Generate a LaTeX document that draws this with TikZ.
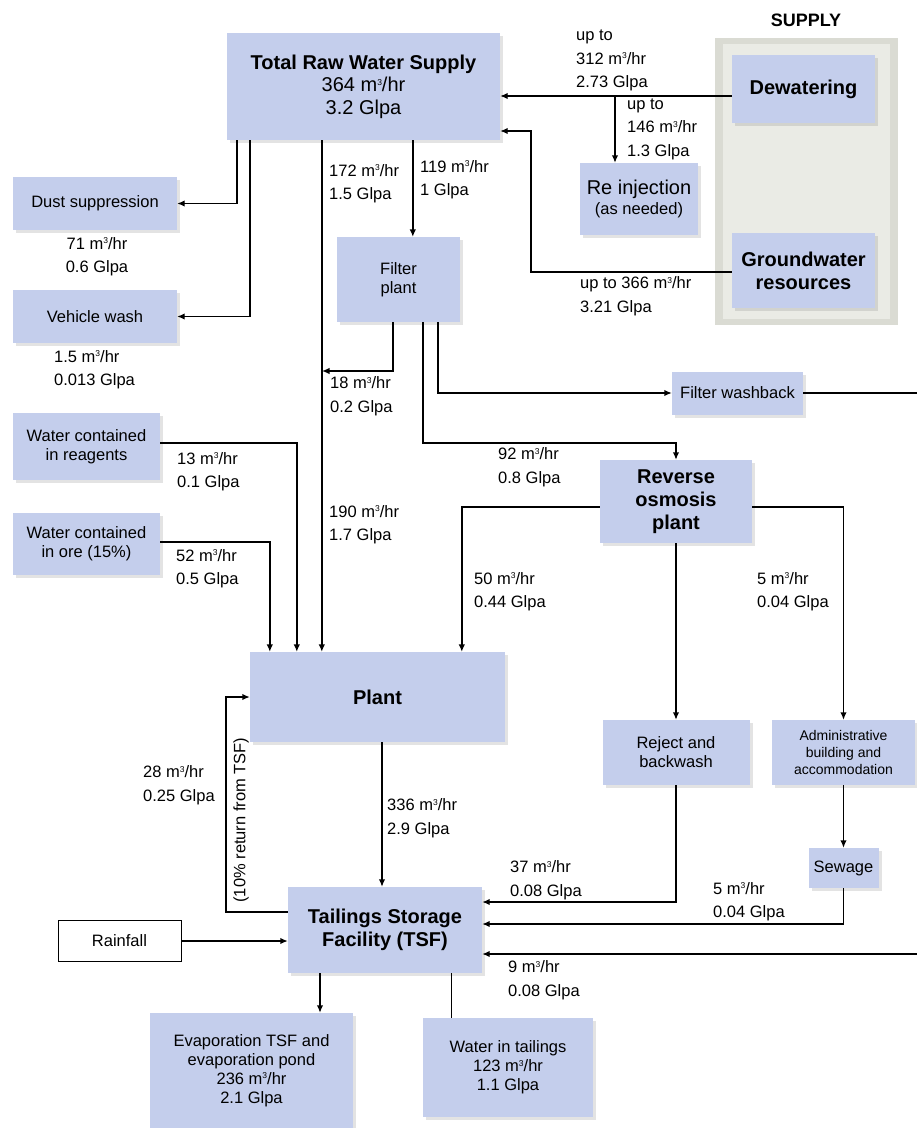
\documentclass[tikz,border=0pt]{standalone}
\usepackage{fontspec}
\setmainfont{Liberation Sans}
\usetikzlibrary{arrows.meta,shadows,calc}
\definecolor{boxblue}{RGB}{196,206,236}
\definecolor{panelout}{RGB}{218,219,211}
\definecolor{panelin}{RGB}{234,235,229}
\newcommand{\mh}{m\raisebox{.62ex}{\fontsize{8.5}{8.5}\selectfont 3}/hr}
\begin{document}
\begin{tikzpicture}[x=1pt,y=-1pt,
  box/.style={fill=boxblue, draw=none, inner sep=2pt, align=center,
    drop shadow={shadow xshift=3pt, shadow yshift=-3pt, opacity=.22, fill=gray},
    font=\fontsize{16.5}{19}\selectfont},
  bbox/.style={box, font=\bfseries\fontsize{20}{23}\selectfont},
  lbl/.style={anchor=west, align=left, inner sep=0pt, font=\fontsize{16.5}{23.5}\selectfont},
  arr/.style={line width=1.4pt, -{Latex[length=7.5pt,width=6.5pt]}},
  ln/.style={line width=1.4pt}]
\fill[white] (0,0) rectangle (917,1128);
\useasboundingbox (0,0) rectangle (917,1128);

% supply panel
\fill[panelout] (715,38) rectangle (898,325);
\fill[panelin] (723,44) rectangle (890,319);
\node[font=\bfseries\fontsize{18}{20}\selectfont] (sup) at (806,20) {SUPPLY};

% nodes
\node[box, minimum width=273pt, minimum height=107pt, font=\fontsize{20}{22.5}\selectfont] (trws) at (363.5,86.5)
  {\textbf{Total Raw Water Supply}\\364 \mh\\3.2 Glpa};
\node[bbox, minimum width=143pt, minimum height=68pt] (dew) at (803.5,89) {Dewatering};
\node[bbox, minimum width=143pt, minimum height=75pt] (gw) at (803.5,270.5) {Groundwater\\resources};
\node[box, minimum width=118pt, minimum height=72pt, font=\fontsize{20}{20}\selectfont] (reinj) at (639,199)
  {Re injection\\{\fontsize{16.5}{19}\selectfont (as needed)}};
\node[box, minimum width=164pt, minimum height=53pt] (dust) at (95,203.5) {Dust suppression};
\node[box, minimum width=164pt, minimum height=53pt] (veh) at (95,316.5) {Vehicle wash};
\node[box, minimum width=123pt, minimum height=85pt] (filt) at (398.5,279.5) {Filter\\plant};
\node[box, minimum width=131pt, minimum height=43pt] (fwb) at (737.5,393) {Filter washback};
\node[bbox, minimum width=152pt, minimum height=83pt] (ro) at (676,501.5) {Reverse\\osmosis\\plant};
\node[box, minimum width=147pt, minimum height=67pt] (wreag) at (86.5,446.5) {Water contained\\in reagents};
\node[box, minimum width=147pt, minimum height=62pt] (wore) at (86.5,544) {Water contained\\in ore (15\%)};
\node[bbox, minimum width=255pt, minimum height=90pt] (plant) at (377.5,697) {Plant};
\node[box, minimum width=147pt, minimum height=65pt] (rej) at (676,752.5) {Reject and\\backwash};
\node[box, minimum width=143pt, minimum height=65pt, font=\fontsize{14}{17}\selectfont] (adm) at (843.5,752.5) {Administrative\\building and\\accommodation};
\node[box, minimum width=70pt, minimum height=40pt] (sew) at (843.5,868) {Sewage};
\node[bbox, minimum width=194pt, minimum height=86pt] (tsf) at (385,930) {Tailings Storage\\Facility (TSF)};
\node[draw=black, line width=1pt, fill=white, minimum width=123pt, minimum height=41pt, inner sep=2pt, font=\fontsize{16.5}{19}\selectfont] (rain) at (119.5,941) {Rainfall};
\node[box, minimum width=203pt, minimum height=115pt] (evap) at (251.5,1070.5) {Evaporation TSF and\\evaporation pond\\236 \mh\\2.1 Glpa};
\node[box, minimum width=170pt, minimum height=99pt] (wtail) at (508,1067.5) {Water in tailings\\123 \mh\\1.1 Glpa};

% helper coordinates
\coordinate (j18) at (322,371);
\coordinate (b1) at (615,96);
\coordinate (r9) at (917,954);
\coordinate (m) at ([xshift=95pt]trws.south west);

% connectors from total raw water supply
\draw[arr] ([xshift=10pt]trws.south west) |- (dust);
\draw[arr] ([xshift=23pt]trws.south west) |- (veh);
\draw[arr] (m) -- (m |- plant.north);
\draw[arr] ([xshift=186pt]trws.south west) -- ([xshift=186pt]trws.south west |- filt.north);

% supply
\draw[arr] ([yshift=-7pt]dew.west) -- ([yshift=-7pt]dew.west -| trws.east);
\draw[arr] (b1) -- (b1 |- reinj.north);
\draw[arr] ([yshift=-1.5pt]gw.west) -- ++(-201,0) |- ([yshift=-44.5pt]trws.east);

% filter plant
\draw[arr] ([xshift=-5.5pt]filt.south) |- (j18);
\draw[arr] ([xshift=24.5pt]filt.south) |- ([yshift=17pt]ro.north) -- (ro.north);
\draw[arr] ([xshift=39.5pt]filt.south) |- (fwb.west);
\draw[ln] (fwb.east) -- (fwb.east -| r9);

% reverse osmosis
\draw[arr] ([yshift=-5.5pt]ro.west) -| ([xshift=212pt]plant.north west);
\draw[arr] (ro.south) -- (rej.north);
\draw[arr] ([yshift=-5.5pt]ro.east) -| (adm.north);
\draw[arr] (adm.south) -- (sew.north);

% plant inputs
\draw[arr] ([yshift=3.5pt]wreag.east) -| ([xshift=47pt]plant.north west);
\draw[arr] ([yshift=2pt]wore.east) -| ([xshift=20pt]plant.north west);

% plant / tsf
\draw[arr] ([xshift=4.5pt]plant.south) -- ([xshift=4.5pt]plant.south |- tsf.north);
\draw[arr] ([yshift=18pt]tsf.west) -- ++(-62,0) |- (plant.west);
\draw[arr] (rain.east) -- (rain.east -| tsf.west);
\draw[arr] (rej.south) |- ([yshift=28pt]tsf.east);
\draw[arr] (sew.south) |- ([yshift=6pt]tsf.east);
\draw[arr] (r9) -- (r9 -| tsf.east);
\draw[arr] ([xshift=-65pt]tsf.south) -- ([xshift=-65pt]tsf.south |- evap.north);
\draw[line width=1pt] ([xshift=66pt]tsf.south) -- ([xshift=66pt]tsf.south |- wtail.north);

% labels
\node[lbl] (l312) at (576,60.5) {up to\\312 \mh\\2.73 Glpa};
\node[lbl] (l146) at (627,129) {up to\\146 \mh\\1.3 Glpa};
\node[lbl] (l366) at (580,296) {up to 366 \mh\\3.21 Glpa};
\node[lbl, anchor=center, align=center] (l71) at (97,256.5) {71 \mh\\0.6 Glpa};
\node[lbl] (l15) at (54,369.5) {1.5 \mh\\0.013 Glpa};
\node[lbl] (l172) at (329,183.5) {172 \mh\\1.5 Glpa};
\node[lbl] (l119) at (420,179.5) {119 \mh\\1 Glpa};
\node[lbl] (l18) at (330,396) {18 \mh\\0.2 Glpa};
\node[lbl] (l92) at (498,467) {92 \mh\\0.8 Glpa};
\node[lbl] (l13) at (177,471.5) {13 \mh\\0.1 Glpa};
\node[lbl] (l52) at (176,568.5) {52 \mh\\0.5 Glpa};
\node[lbl] (l190) at (329,524.5) {190 \mh\\1.7 Glpa};
\node[lbl] (l50) at (474,591.5) {50 \mh\\0.44 Glpa};
\node[lbl] (l5a) at (757,591.5) {5 \mh\\0.04 Glpa};
\node[lbl] (l28) at (143,785) {28 \mh\\0.25 Glpa};
\node[lbl] (l336) at (387,818) {336 \mh\\2.9 Glpa};
\node[lbl] (l37) at (510,880) {37 \mh\\0.08 Glpa};
\node[lbl] (l5b) at (713,901.5) {5 \mh\\0.04 Glpa};
\node[lbl] (l9) at (508,980) {9 \mh\\0.08 Glpa};
\node[inner sep=0pt, rotate=90, font=\fontsize{16.5}{19}\selectfont] (ret) at (241,820) {(10\% return from TSF)};
\end{tikzpicture}
\end{document}
